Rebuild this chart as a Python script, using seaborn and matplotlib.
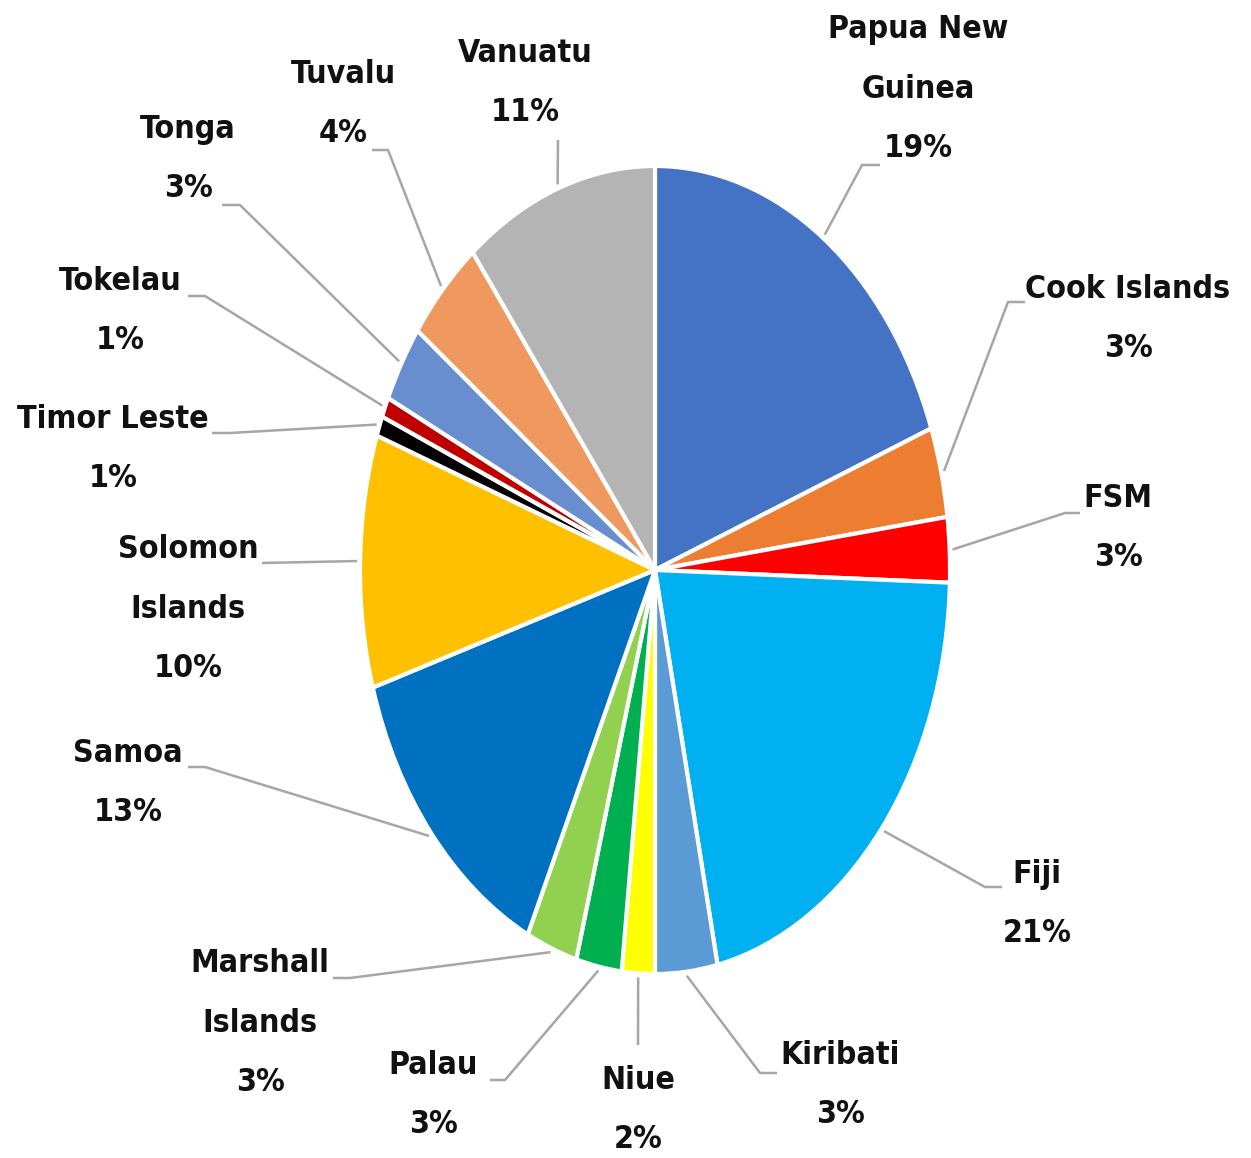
import numpy as np
import seaborn as sns
from matplotlib import pyplot as plt
from matplotlib import font_manager as fm

# data, clockwise from 12 o'clock
countries = ["Papua New\nGuinea", "Cook Islands", "FSM", "Fiji", "Kiribati", "Niue",
             "Palau", "Marshall\nIslands", "Samoa", "Solomon\nIslands", "Timor Leste",
             "Tokelau", "Tonga", "Tuvalu", "Vanuatu"]
shares = [19.3, 3.6, 2.6, 21.1, 3.4, 1.8, 2.5, 2.8, 13.2, 10.1, 0.8, 0.8, 3.1, 4.3, 10.6]
pct_labels = ["19%", "3%", "3%", "21%", "3%", "2%", "3%", "3%", "13%", "10%",
              "1%", "1%", "3%", "4%", "11%"]
colors = ["#4472C4", "#ED7D31", "#FF0000", "#00B0F0", "#5B9BD5", "#FFFF00", "#00B050",
          "#92D050", "#0070C0", "#FFC000", "#000000", "#C00000", "#698ED0", "#F0995E",
          "#B4B4B4"]

# label layout in pixels: text centre, elbow of leader, end of horizontal segment
label_layout = [
    (918, 89, 862, 165, 880),
    (1128, 319, 1008, 302, 1025),
    (1118, 528, 1065, 513, 1080),
    (1037, 904, 985, 887, 1002),
    (840, 1085, 760, 1073, 777),
    (638, 1110, 638, 1045, 638),
    (433, 1095, 505, 1080, 490),
    (260, 1023, 350, 978, 333),
    (128, 783, 205, 767, 188),
    (188, 609, 262, 563, 262),
    (113, 449, 230, 433, 212),
    (120, 311, 205, 296, 188),
    (188, 159, 240, 205, 222),
    (343, 104, 388, 150, 372),
    (525, 83, 558, 140, 558),
]

W, H = 1251, 1158
CX, CY, RX, RY = 655, 570, 295, 404


def px(x, y):
    return (x - CX) / RX, (CY - y) / RY


def pick_font():
    # look for a narrow bold face, the labels are tall and condensed
    prefs = [("LiberationSansNarrow-Bold", 28), ("NotoSans-CondensedBold", 27),
             ("OpenSans-CondensedBold", 26), ("DejaVuSansCondensed-Bold", 23)]
    files = [f.fname for f in fm.fontManager.ttflist]
    for key, size in prefs:
        for fn in files:
            if key in fn.replace(" ", ""):
                return fm.FontProperties(fname=fn, size=size)
    return fm.FontProperties(family="DejaVu Sans", weight="bold", size=21)


sns.set_style("white")
plt.rcParams["font.family"] = ["DejaVu Sans"]
fp = pick_font()

fig = plt.figure(figsize=(W / 100, H / 100), dpi=100)
ax = fig.add_axes([0, 0, 1, 1])
wedges, _ = ax.pie(shares, colors=colors, startangle=90, counterclock=False,
                   wedgeprops=dict(edgecolor="white", linewidth=3))
ax.set_aspect("auto")
ax.set_xlim(-CX / RX, (W - CX) / RX)
ax.set_ylim(-(H - CY) / RY, CY / RY)
ax.axis("off")

# line spacing of the reference is ~61 px
ls = 1.33 * 61 / (fp.get_size_in_points() * 100 / 72 * 1.17)

for w, name, pct, lay in zip(wedges, countries, pct_labels, label_layout):
    tx, ty, ex, ey, endx = lay
    th = np.deg2rad((w.theta1 + w.theta2) / 2)
    ax0, ay0 = 1.01 * np.cos(th), 1.01 * np.sin(th)
    e = px(ex, ey)
    f = px(endx, ey)
    ax.plot([ax0, e[0], f[0]], [ay0, e[1], f[1]], color="#A6A6A6", lw=1.8,
            solid_capstyle="butt", zorder=1)
    t = px(tx, ty)
    ax.text(t[0], t[1], name + "\n" + pct, ha="center", va="center",
            multialignment="center", fontproperties=fp,
            linespacing=ls, color="#111111")

fig.savefig("out.png", dpi=100)
